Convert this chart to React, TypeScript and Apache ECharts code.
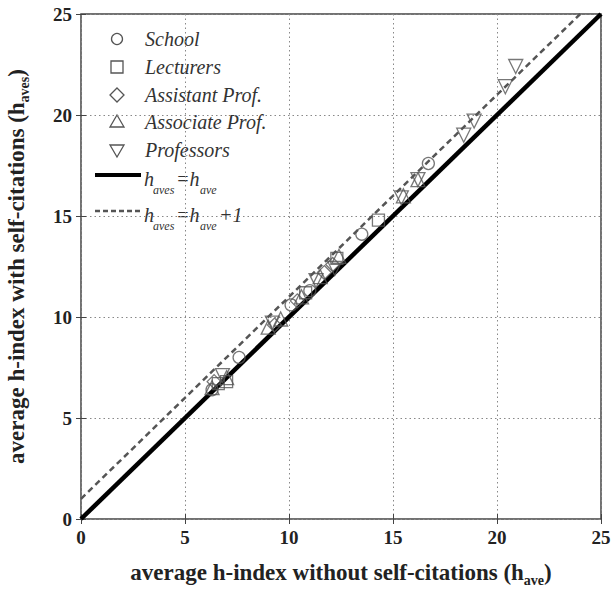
import React, { useEffect, useRef } from "react";
import * as echarts from "echarts";

const schoolX = [6.3, 7.6, 10.1, 11.0, 13.5, 16.7];
const schoolY = [6.4, 8.0, 10.6, 11.3, 14.1, 17.6];
const lecturersX = [6.6, 7.0, 10.8, 12.3, 14.3];
const lecturersY = [6.7, 6.8, 11.2, 12.9, 14.8];
const assistantX = [6.4, 9.3, 10.4, 11.7, 12.1];
const assistantY = [6.8, 9.6, 10.8, 12.2, 12.6];
const associateX = [6.3, 7.0, 9.0, 9.6, 10.6, 11.5, 12.4, 15.5, 16.2];
const associateY = [6.5, 7.0, 9.5, 9.9, 11.0, 12.0, 13.0, 16.0, 16.8];
const professorsX = [6.8, 9.2, 11.3, 12.2, 15.4, 16.2, 18.4, 18.9, 20.4, 20.9];
const professorsY = [7.1, 9.7, 11.8, 12.4, 15.9, 16.8, 19.0, 19.7, 21.4, 22.4];
const equalLine = [[0, 0], [25, 25]];
const plusOneLine = [[0, 1], [24, 25]];

const legendNames = ["School", "Lecturers", "Assistant Prof.", "Associate Prof.", "Professors"];

const zip = (xs: number[], ys: number[]) => xs.map((x, i) => [x, ys[i]]);

const serif = "'Liberation Serif', 'Times New Roman', serif";
const markColor = "#555";

export default function App() {
  const ref = useRef<HTMLDivElement>(null);
  useEffect(() => {
    if (!ref.current) return;
    const chart = echarts.init(ref.current, null, { renderer: "svg" });
    const scatterBase = (name: string, data: number[][], symbol: string, rotate = 0, size = 12) => ({
      name,
      type: "scatter",
      data,
      symbol,
      symbolSize: size,
      symbolRotate: rotate,
      itemStyle: { color: "rgba(255,255,255,0)", borderColor: markColor, borderWidth: 1.3 },
      z: 5,
    });
    const axisCommon = {
      type: "value",
      min: 0,
      max: 25,
      interval: 5,
    };
    const legendTextStyle = { fontFamily: serif, fontStyle: "italic", fontSize: 20, fill: "#333" };
    const rowY = [39, 67, 95, 122, 150];
    const sym = (i: number) => {
      const cx = 117, cy = rowY[i];
      const style = { fill: "none", stroke: markColor, lineWidth: 1.3 };
      if (i === 0) return { type: "circle", shape: { cx, cy, r: 5.5 }, style };
      if (i === 1) return { type: "rect", shape: { x: cx - 6, y: cy - 6, width: 12, height: 12 }, style };
      if (i === 2) return { type: "polygon", shape: { points: [[cx, cy - 7], [cx + 7, cy], [cx, cy + 7], [cx - 7, cy]] }, style };
      if (i === 3) return { type: "polygon", shape: { points: [[cx, cy - 7], [cx + 7, cy + 5], [cx - 7, cy + 5]] }, style };
      return { type: "polygon", shape: { points: [[cx - 7, cy - 5], [cx + 7, cy - 5], [cx, cy + 7]] }, style };
    };
    const graphic: any[] = [];
    legendNames.forEach((n, i) => {
      graphic.push(sym(i));
      graphic.push({ type: "text", x: 145, y: rowY[i], style: { ...legendTextStyle, text: n, verticalAlign: "middle" } });
    });
    const mainT = (text: string, x: number, y: number) => ({
      type: "text", x, y, style: { ...legendTextStyle, text, verticalAlign: "middle" },
    });
    const subT = (text: string, x: number, y: number) => ({
      type: "text", x, y, style: { ...legendTextStyle, fontSize: 12, text, verticalAlign: "middle" },
    });
    const eq = (y: number, plus: boolean) => {
      const arr = [mainT("h", 144, y), subT("aves", 153, y + 11), mainT("=h", 176, y), subT("ave", 200, y + 11)];
      if (plus) arr.push(mainT("+1", 219, y));
      return arr;
    };
    graphic.push({ type: "line", shape: { x1: 95, y1: 175, x2: 141, y2: 175 }, style: { stroke: "#000", lineWidth: 4 } });
    graphic.push(...eq(179, false));
    graphic.push({ type: "line", shape: { x1: 95, y1: 211, x2: 141, y2: 211 }, style: { stroke: "#555", lineWidth: 2.5, lineDash: [5, 3] } });
    graphic.push(...eq(215, true));

    const nameRich = {
      b: { fontFamily: serif, fontWeight: "bold", fontSize: 23, color: "#222" },
      s: { fontFamily: serif, fontWeight: "bold", fontSize: 14, color: "#222", padding: [16, 0, 0, 0] },
    };
    const labelStyle = { fontFamily: serif, fontWeight: "bold", fontSize: 19, color: "#222" };
    const splitLine = { show: true, lineStyle: { color: "#888", type: [1.5, 3], width: 1 } };
    const tick = { show: true, inside: true, length: 5, lineStyle: { color: "#444" } };

    chart.setOption({
      animation: false,
      grid: {
        left: 81, right: 12, top: 14, bottom: 72, show: true, borderColor: "#444", borderWidth: 1.5,
        backgroundColor: "#fff", containLabel: false, outerBoundsMode: "none",
      },
      xAxis: [
        {
          ...axisCommon,
          name: "{b|average h-index without self-citations (h}{s|ave}{b|)}",
          nameLocation: "middle",
          nameGap: 38,
          nameTextStyle: { rich: nameRich },
          axisLine: { show: false },
          axisTick: tick,
          axisLabel: { ...labelStyle, margin: 9 },
          splitLine,
        },
        {
          ...axisCommon,
          position: "top",
          axisLine: { show: false },
          axisTick: tick,
          axisLabel: { show: false },
          splitLine: { show: false },
        },
      ],
      yAxis: [
        {
          ...axisCommon,
          name: "{b|average h-index with self-citations (h}{s|aves}{b|)}",
          nameLocation: "middle",
          nameGap: 50,
          nameRotate: 90,
          nameTextStyle: { rich: nameRich },
          axisLine: { show: false },
          axisTick: tick,
          axisLabel: { ...labelStyle, margin: 9 },
          splitLine,
        },
        {
          ...axisCommon,
          position: "right",
          axisLine: { show: false },
          axisTick: tick,
          axisLabel: { show: false },
          splitLine: { show: false },
        },
      ],
      series: [
        {
          type: "line",
          data: equalLine,
          symbol: "none",
          lineStyle: { color: "#000", width: 4.5 },
          z: 3,
        },
        {
          type: "line",
          data: plusOneLine,
          symbol: "none",
          lineStyle: { color: "#555", width: 2.5, type: [6, 4] },
          z: 4,
        },
        scatterBase("School", zip(schoolX, schoolY), "circle"),
        scatterBase("Lecturers", zip(lecturersX, lecturersY), "rect", 0, 12),
        scatterBase("Assistant Prof.", zip(assistantX, assistantY), "diamond", 0, 14),
        scatterBase("Associate Prof.", zip(associateX, associateY), "triangle", 0, 14),
        scatterBase("Professors", zip(professorsX, professorsY), "triangle", 180, 14),
      ],
      graphic,
    });
    return () => chart.dispose();
  }, []);
  return <div ref={ref} style={{ width: 613, height: 591, position: "absolute", left: 0, top: 0 }} />;
}
